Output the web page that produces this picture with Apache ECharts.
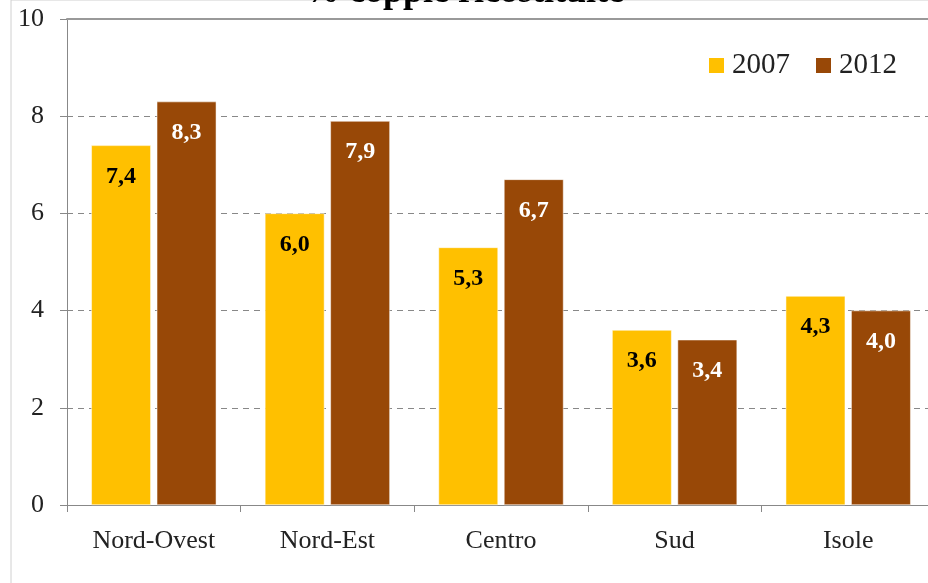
<!DOCTYPE html>
<html>
<head>
<meta charset="utf-8">
<script src="https://cdn.jsdelivr.net/npm/echarts@6/dist/echarts.min.js"></script>
<style>
  html, body { margin: 0; padding: 0; background: #fff; }
  #main { width: 928px; height: 583px; }
</style>
</head>
<body>
<div id="main"></div>
<script>
var regioni = ['Nord-Ovest', 'Nord-Est', 'Centro', 'Sud', 'Isole'];
var anni = ['2007', '2012'];
var val2007 = [7.4, 6.0, 5.3, 3.6, 4.3];
var val2012 = [8.3, 7.9, 6.7, 3.4, 4.0];
var yTicks = [0, 2, 4, 6, 8, 10];

var font = '"Liberation Serif", "Times New Roman", serif';

function virgola(p) {
  return p.value.toFixed(1).replace('.', ',');
}

var myChart = echarts.init(document.getElementById('main'));
var option = {
  animation: false,
  textStyle: { fontFamily: font },
  title: {
    text: '% coppie ricostituite',
    left: 'center',
    top: -30,
    textStyle: { fontFamily: font, fontWeight: 'bold', fontSize: 36, color: '#000' }
  },
  graphic: [{
    type: 'rect',
    shape: { x: 11, y: 0, width: 940, height: 600 },
    style: { fill: 'none', stroke: '#d0d0d0', lineWidth: 1 },
    silent: true
  }],
  legend: {
    data: anni,
    right: 26,
    top: 46,
    itemWidth: 17,
    itemHeight: 17,
    itemGap: 24,
    icon: 'rect',
    textStyle: { fontFamily: font, fontSize: 29, color: '#222', padding: [0, 0, 0, 2] }
  },
  grid: { left: 67, width: 868, top: 19, bottom: 78, outerBoundsMode: 'none' },
  xAxis: [{
    type: 'category',
    data: regioni,
    axisLine: { lineStyle: { color: '#888', width: 1 } },
    axisTick: { show: true, length: 7, lineStyle: { color: '#888' } },
    axisLabel: { margin: 23, fontFamily: font, fontSize: 26, color: '#222' }
  }, {
    type: 'category',
    data: regioni,
    position: 'top',
    axisLine: { lineStyle: { color: '#999', width: 2 } },
    axisTick: { show: false },
    axisLabel: { show: false }
  }],
  yAxis: {
    type: 'value',
    min: yTicks[0],
    max: yTicks[yTicks.length - 1],
    interval: 2,
    axisLine: { show: true, lineStyle: { color: '#888' } },
    axisTick: { show: true, length: 7, lineStyle: { color: '#888' } },
    axisLabel: { margin: 23, fontFamily: font, fontSize: 26, color: '#222' },
    splitLine: { show: true, lineStyle: { type: [6, 5], color: '#888', width: 1 } }
  },
  series: [{
    name: anni[0],
    type: 'bar',
    data: val2007,
    barGap: '10%',
    barCategoryGap: '28%',
    itemStyle: { color: '#FFC000', borderColor: '#fff', borderWidth: 0.5 },
    label: {
      show: true, position: 'insideTop', distance: 19,
      formatter: virgola,
      fontFamily: font, fontWeight: 'bold', fontSize: 24, color: '#000'
    }
  }, {
    name: anni[1],
    type: 'bar',
    data: val2012,
    itemStyle: { color: '#984807', borderColor: '#fff', borderWidth: 0.5 },
    label: {
      show: true, position: 'insideTop', distance: 19,
      formatter: virgola,
      fontFamily: font, fontWeight: 'bold', fontSize: 24, color: '#fff'
    }
  }]
};
myChart.setOption(option);
</script>
</body>
</html>
